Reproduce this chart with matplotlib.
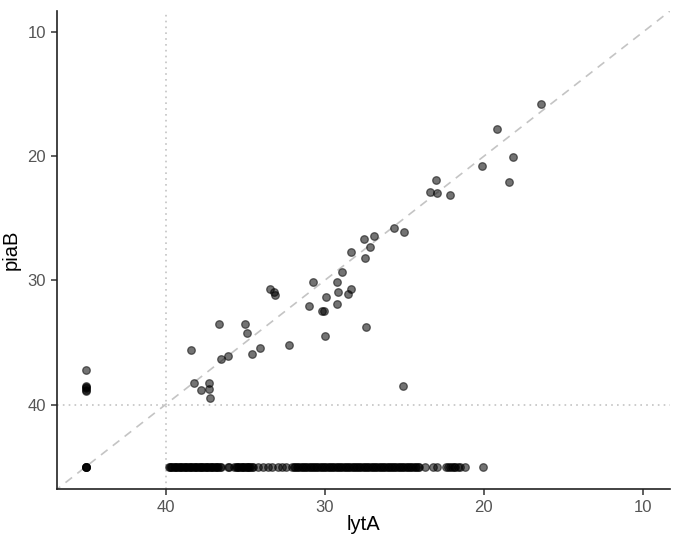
import matplotlib
matplotlib.use('Agg')
import matplotlib.pyplot as plt

plt.rcParams['font.family'] = ['Liberation Sans', 'DejaVu Sans']

## detected in both targets (Ct values)
lytA = [38.41, 38.22, 37.75, 37.28, 37.28, 37.21, 36.67, 36.50, 36.10, 35.03,
        34.86, 34.59, 34.04, 33.43, 33.21, 33.12, 32.24, 30.97, 30.72, 30.19,
        30.02, 29.90, 30.00, 29.25, 29.14, 29.25, 28.89, 28.52, 28.35, 28.35,
        27.42, 27.47, 27.53, 27.15, 26.90, 25.62, 25.00, 23.40, 23.00, 22.92,
        22.12, 20.13, 19.15, 18.41, 18.14, 16.42, 25.09]
piaB = [35.62, 38.25, 38.85, 38.25, 38.73, 39.44, 33.52, 36.31, 36.07, 33.52,
        34.22, 35.94, 35.48, 30.73, 30.94, 31.21, 35.24, 32.02, 30.16, 32.47,
        32.47, 31.32, 34.44, 30.13, 30.94, 31.91, 29.33, 31.10, 30.73, 27.72,
        33.73, 28.20, 26.69, 27.28, 26.43, 25.75, 26.10, 22.85, 21.90, 22.98,
        23.09, 20.78, 17.77, 22.04, 20.06, 15.75, 38.47]

## lytA not detected (set to 45) -> piaB values
lytA_nd_piaB = [37.2, 38.5, 38.6, 38.7, 38.8, 38.9, 45.0, 45.0, 45.0, 45.0]

## piaB not detected (set to 45) -> lytA values
piaB_nd_lytA = [39.80, 39.72, 39.65, 39.57, 39.48, 39.41, 39.33, 39.25, 39.18, 39.09,
                39.02, 38.94, 38.86, 38.79, 38.70, 38.63, 38.55, 38.47, 38.40, 38.31,
                38.24, 38.16, 38.08, 38.01, 37.92, 37.85, 37.77, 37.69, 37.62, 37.53,
                37.46, 37.38, 37.30, 37.23, 37.14, 37.07, 36.99, 36.91, 36.84, 36.75,
                36.68, 36.60, 36.52, 36.05, 35.98,
                35.67, 35.59, 35.51, 35.44, 35.36, 35.28, 35.20, 35.13, 35.05, 34.97,
                34.89, 34.82, 34.74, 34.66, 34.58, 34.50,
                34.20, 33.85, 33.55, 33.30, 32.95, 32.65, 32.40,
                32.05, 31.95, 31.85, 31.75, 31.65, 31.55, 31.45, 31.35, 31.25, 31.15,
                31.05, 30.95, 30.85, 30.75, 30.65, 30.55, 30.45, 30.35, 30.25, 30.15,
                30.05, 29.95, 29.85, 29.75, 29.65, 29.55, 29.45, 29.35, 29.25, 29.15,
                29.05, 28.95, 28.85, 28.75, 28.65, 28.55, 28.45, 28.35, 28.25, 28.15,
                28.05, 27.95, 27.85, 27.75, 27.65, 27.55, 27.45, 27.35, 27.25, 27.15,
                27.05, 26.95, 26.85, 26.75, 26.65, 26.55, 26.45, 26.35, 26.25, 26.15,
                26.05, 25.95, 25.85, 25.75, 25.65, 25.55, 25.45, 25.35, 25.25, 25.15,
                25.05, 24.95, 24.85, 24.75, 24.65, 24.55, 24.45, 24.35, 24.25, 24.15,
                24.05, 23.70, 23.18, 22.97, 22.40, 22.28, 22.15, 22.02, 21.90, 21.78,
                21.65, 21.52, 21.19, 20.04]
nd_value = 45.0
cutoff = 40.0

fig = plt.figure(figsize=(6.82, 5.51), dpi=100)
ax = fig.add_axes([0.084, 0.1125, 0.8984, 0.8675])

pt = dict(s=30, c='black', alpha=0.55, edgecolors='black', linewidths=0.9, zorder=3)
ax.scatter(lytA, piaB, **pt)
ax.scatter([nd_value] * len(lytA_nd_piaB), lytA_nd_piaB, **pt)
ax.scatter(piaB_nd_lytA, [nd_value] * len(piaB_nd_lytA), **pt)

lims = (46.8, 8.3)
ax.plot([50, 0], [50, 0], ls=(0, (5, 4)), color='#c4c4c4', lw=1.2, zorder=1)
ax.axvline(cutoff, ls=(0, (1, 2.5)), color='#c4c4c4', lw=1.2, zorder=1)
ax.axhline(cutoff, ls=(0, (1, 2.5)), color='#c4c4c4', lw=1.2, zorder=1)

ax.set_xlim(*lims)
ax.set_ylim(*lims)
ax.set_xticks([40, 30, 20, 10])
ax.set_yticks([10, 20, 30, 40])

for s in ['top', 'right']:
    ax.spines[s].set_visible(False)
for s in ['left', 'bottom']:
    ax.spines[s].set_color('#222222')
    ax.spines[s].set_linewidth(1.2)
ax.tick_params(length=4, width=1.1, color='#333333', labelcolor='#555555',
               labelsize=12, pad=4)

ax.set_xlabel('lytA', fontsize=14.5, color='black', labelpad=0)
ax.set_ylabel('piaB', fontsize=14.5, color='black', labelpad=5)

fig.savefig('out.png', dpi=100)
